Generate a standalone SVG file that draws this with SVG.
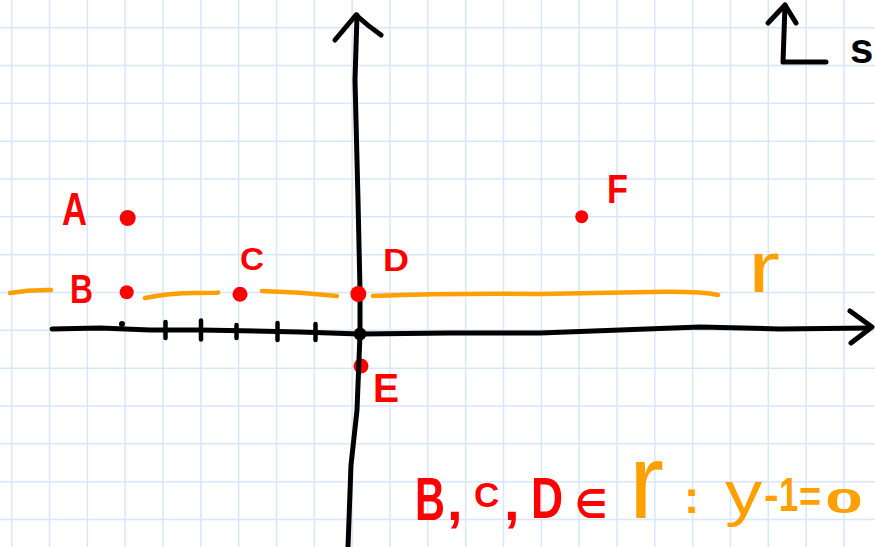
<svg xmlns="http://www.w3.org/2000/svg" width="875" height="547" viewBox="0 0 875 547">
<style>
.grid{stroke:#d7e7fb;stroke-width:1.5;fill:none}
.ax{stroke:#000;stroke-width:5;fill:none;stroke-linecap:round;stroke-linejoin:round}
.tick{stroke:#000;stroke-width:4.5;stroke-linecap:round}
.r{stroke:#ff9f00;stroke-width:4.5;fill:none;stroke-linecap:round;stroke-linejoin:round}
.pt{fill:#ff0000}
.lbl{fill:#ff0000;font-family:"Liberation Sans","DejaVu Sans",sans-serif;font-weight:bold}
.or{fill:#ff9f00;font-family:"Liberation Sans","DejaVu Sans",sans-serif}
.b{font-weight:bold}
</style>
<rect width="875" height="547" fill="#fff"/>
<g id="grid" class="grid">
<path d="M11.7,0V547M49.53,0V547M87.36,0V547M125.19,0V547M163.02,0V547M200.85,0V547M238.68,0V547M276.51,0V547M314.34,0V547M352.17,0V547M390,0V547M427.83,0V547M465.66,0V547M503.49,0V547M541.32,0V547M579.15,0V547M616.98,0V547M654.81,0V547M692.64,0V547M730.47,0V547M768.3,0V547M806.13,0V547M843.96,0V547"/>
<path d="M0,27.7H875M0,65.53H875M0,103.36H875M0,141.19H875M0,179.02H875M0,216.85H875M0,254.68H875M0,292.51H875M0,330.34H875M0,368.17H875M0,406H875M0,443.83H875M0,481.66H875M0,519.49H875"/>
</g>
<g id="connectors">
<g id="line-r" class="r">
<path d="M10,293 Q30,289.5 51,290"/>
<path d="M145,298 Q170,293 195,293 T218,292.5"/>
<path d="M262,291 Q300,292 337,296"/>
<path d="M373,296 Q450,293 540,294 Q600,293 650,292 T718,295"/>
</g>
<circle id="E-dot" class="pt" cx="361" cy="366" r="7.5"/>
<g id="y-axis" class="ax">
<path d="M357,15 L355,80 L358,200 L360,290 L360,334 L357,410 L351,465 L348,547"/>
<path d="M335,40 L356,15 Q368,26 381,35"/>
</g>
<g id="x-axis" class="ax">
<path d="M52,329 L100,328 L150,330 L200,330 L300,332 L360,334 L450,333 L540,333 L620,330 L700,327 L780,329 L870,328"/>
<path d="M850,311 L872,327 L851,343"/>
</g>
<g id="ticks" class="tick">
<circle cx="122" cy="324" r="3" fill="#000" stroke="none"/>
<line x1="165.5" y1="322" x2="165.5" y2="338"/>
<line x1="201" y1="320.5" x2="201" y2="339.5"/>
<line x1="236.5" y1="325" x2="236.5" y2="338"/>
<line x1="277.5" y1="323" x2="277.5" y2="340"/>
<line x1="315.5" y1="324" x2="315.5" y2="340"/>
</g>
<circle id="origin" cx="360" cy="334" r="6.5" fill="#000"/>
<g id="s-line" class="ax">
<path d="M785,5 L783,62 L826,62"/>
<path d="M768,23 L785,5 L796,23"/>
</g>
</g>
<g id="A"><circle class="pt" cx="127.7" cy="218" r="8"/><text class="lbl" x="62" y="225" font-size="46" textLength="25" lengthAdjust="spacingAndGlyphs">A</text></g>
<g id="B"><circle class="pt" cx="126.7" cy="292.3" r="7"/><text class="lbl" x="70" y="303" font-size="41" textLength="23" lengthAdjust="spacingAndGlyphs">B</text></g>
<g id="C"><circle class="pt" cx="240" cy="294.3" r="7.5"/><text class="lbl" x="240" y="270" font-size="32" textLength="24" lengthAdjust="spacingAndGlyphs">C</text></g>
<g id="D"><circle class="pt" cx="358.3" cy="294" r="8"/><text class="lbl" x="383" y="271" font-size="32" textLength="26" lengthAdjust="spacingAndGlyphs">D</text></g>
<g id="E"><text class="lbl" x="373" y="402" font-size="40" textLength="26" lengthAdjust="spacingAndGlyphs">E</text></g>
<g id="F"><circle class="pt" cx="581.7" cy="216.7" r="6.5"/><text class="lbl" x="607" y="203" font-size="41" textLength="21" lengthAdjust="spacingAndGlyphs">F</text></g>
<g id="r-label"><text class="or" x="748" y="292" font-size="72" textLength="32" lengthAdjust="spacingAndGlyphs">r</text></g>
<g id="s-label"><text x="850" y="63" font-size="42" font-weight="bold" font-family="'Liberation Sans',sans-serif" fill="#000">s</text></g>
<g id="equation">
<text class="lbl" transform="translate(415,520) scale(0.68,1)" font-size="61">B</text>
<text class="lbl" x="447" y="520" font-size="56">,</text>
<text class="lbl" x="474" y="507" font-size="35">C</text>
<text class="lbl" x="504" y="520" font-size="56">,</text>
<text class="lbl" transform="translate(531,518) scale(0.78,1)" font-size="57">D</text>
<text class="lbl" transform="translate(575,518) scale(0.9,1)" font-size="40" font-family="'DejaVu Sans',sans-serif">∈</text>
<text class="or" x="629" y="518" font-size="105">r</text>
<text class="or b" x="684" y="513" font-size="46">:</text>
<text class="or" transform="translate(725,514) scale(1.2,1)" font-size="62">y</text>
<text class="or b" x="764" y="510" font-size="44">-</text>
<text class="or b" transform="translate(779,511) scale(0.72,1)" font-size="48">1</text>
<text class="or b" transform="translate(799,512) scale(0.86,1)" font-size="44">=</text>
<text class="or b" transform="translate(825,513) scale(1.9,1)" font-size="36">0</text>
</g>
</svg>
